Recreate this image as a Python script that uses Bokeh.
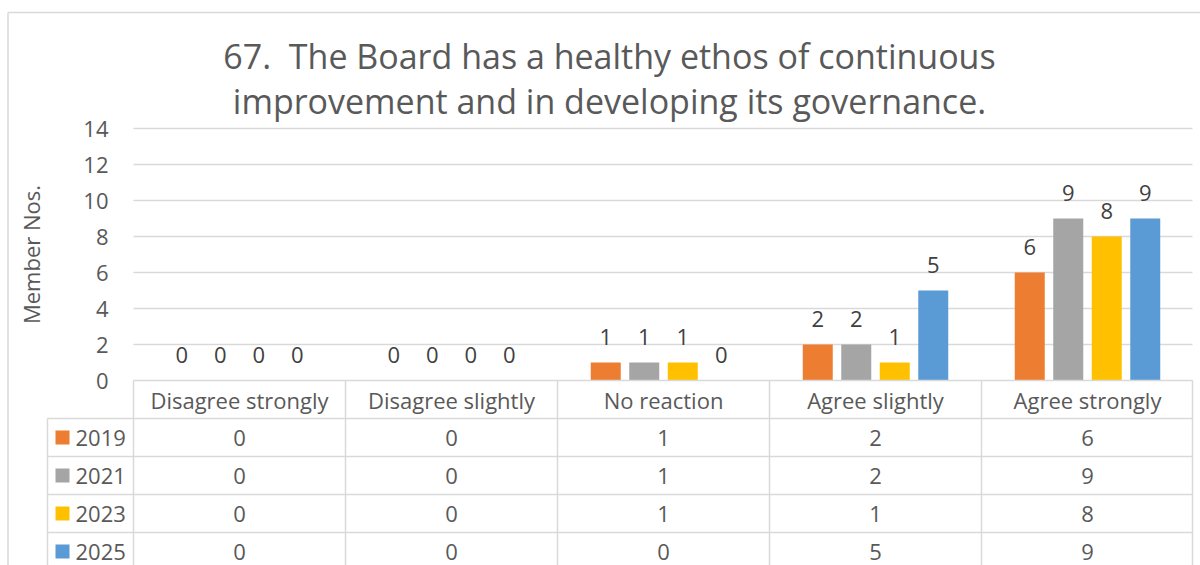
from bokeh.plotting import figure
from bokeh.models import Range1d, LinearAxis, FixedTicker, ColumnDataSource
from bokeh.core.properties import value
from bokeh.embed import file_html
from bokeh.resources import INLINE

# ---------------- data ----------------
categories = ["Disagree strongly", "Disagree slightly", "No reaction", "Agree slightly", "Agree strongly"]
years = ["2019", "2021", "2023", "2025"]
v2019 = [0, 0, 1, 2, 6]
v2021 = [0, 0, 1, 2, 9]
v2023 = [0, 0, 1, 1, 8]
v2025 = [0, 0, 0, 5, 9]
series = [v2019, v2021, v2023, v2025]
colors = ["#ED7D31", "#A5A5A5", "#FFC000", "#5B9BD5"]
y_ticks = [0, 2, 4, 6, 8, 10, 12, 14]
title_lines = ["67.\u00a0 The Board has a healthy ethos of continuous",
               "improvement and in developing its governance."]
y_label = "Member Nos."

# ---------------- layout ----------------
FONT = "Open Sans"
TXT = "#595959"
GRID = "#D9D9D9"
FS = "22px"
W, H = 1200, 565
PXC = 212.0   # px per category
PXV = 18.0    # px per unit value
X0 = 239.0    # x of category 0 centre
Y0 = 380.0    # y of value 0

def dx(px):
    return px / PXC

def dy(px):
    return px / PXV

p = figure(width=W, height=H, output_backend="svg", toolbar_location=None,
           x_range=Range1d(-X0 / PXC, (W - X0) / PXC),
           y_range=Range1d(-(H - Y0) / PXV, Y0 / PXV),
           x_axis_location=None, y_axis_location=None,
           min_border=0, outline_line_color=None)
p.xgrid.visible = False
p.ygrid.visible = False
p.background_fill_color = "white"
p.border_fill_color = "white"

n = len(categories)
left_edge = -0.5
right_edge = n - 0.5 - dx(1)
legend_edge = -0.5 - dx(86)
row_h = dy(38)

# chart border
bx = dx(7.5 - X0)
p.segment(x0=[bx], x1=[n + 1], y0=[dy(Y0 - 12)], y1=[dy(Y0 - 12)], line_color=GRID, line_width=1.5)
p.segment(x0=[bx], x1=[bx], y0=[dy(Y0 - 12)], y1=[-20], line_color=GRID, line_width=1.5)

# gridlines
gt = y_ticks[1:]
p.segment(x0=[left_edge] * len(gt), x1=[right_edge] * len(gt), y0=gt, y1=gt, line_color=GRID, line_width=1.5)

# y axis placed inside frame
ax = LinearAxis(ticker=FixedTicker(ticks=y_ticks), fixed_location=left_edge,
                axis_line_color=None, major_tick_line_color=None, minor_tick_line_color=None,
                major_label_text_font=FONT, major_label_text_font_size=FS,
                major_label_text_color=TXT, major_label_standoff=19)
p.add_layout(ax, "left")

p.text(x=[dx(30 - X0)], y=[(y_ticks[0] + y_ticks[-1]) / 2], text=[y_label], angle=1.5707963,
       text_font=value(FONT), text_font_size=FS, text_color=TXT,
       text_align="center", text_baseline="middle")

# bars + data labels
bw = dx(30)
step = dx(38.5)
for k, (vals, col) in enumerate(zip(series, colors)):
    xs = [i + (k - 1.5) * step for i in range(n)]
    src = ColumnDataSource(dict(x=xs, top=vals, lab=[str(v) for v in vals]))
    p.vbar(x="x", top="top", bottom=0, width=bw, source=src, fill_color=col, line_color=None)
    p.text(x="x", y="top", text="lab", source=src, text_font=value(FONT), text_font_size=FS,
           text_color="#404040", text_align="center", text_baseline="middle", y_offset=-26)

# title
for j, line in enumerate(title_lines):
    p.text(x=[dx(609 - X0)], y=[dy(Y0 - 55 - 45 * j)], text=[line], text_font=value(FONT),
           text_font_size="34px", text_color=TXT, text_align="center", text_baseline="middle")

# data table
nrows = len(years)
bottom = -row_h * (nrows + 2)
hx0 = [left_edge] + [legend_edge] * nrows
hy = [-row_h * r for r in range(nrows + 1)]
p.segment(x0=hx0, x1=[right_edge] * len(hy), y0=hy, y1=hy, line_color=GRID, line_width=1.5)
vx = [left_edge + i for i in range(n)] + [right_edge]
p.segment(x0=vx, x1=vx, y0=[0] * len(vx), y1=[bottom] * len(vx), line_color=GRID, line_width=1.5)
p.segment(x0=[legend_edge], x1=[legend_edge], y0=[-row_h], y1=[bottom], line_color=GRID, line_width=1.5)

p.text(x=list(range(n)), y=[-row_h / 2] * n, text=categories, text_font=value(FONT),
       text_font_size=FS, text_color=TXT, text_align="center", text_baseline="middle")

for r, (yr, vals, col) in enumerate(zip(years, series, colors)):
    yc = -row_h * (r + 1.5)
    p.scatter(x=[dx(62 - X0)], y=[yc], marker="square", size=14, fill_color=col, line_color=None)
    p.text(x=[dx(75 - X0)], y=[yc], text=[yr], text_font=value(FONT),
           text_font_size=FS, text_color=TXT, text_align="left", text_baseline="middle")
    p.text(x=list(range(n)), y=[yc] * n, text=[str(v) for v in vals], text_font=value(FONT),
           text_font_size=FS, text_color=TXT, text_align="center", text_baseline="middle")

open("out.html", "w").write(file_html(p, INLINE))
